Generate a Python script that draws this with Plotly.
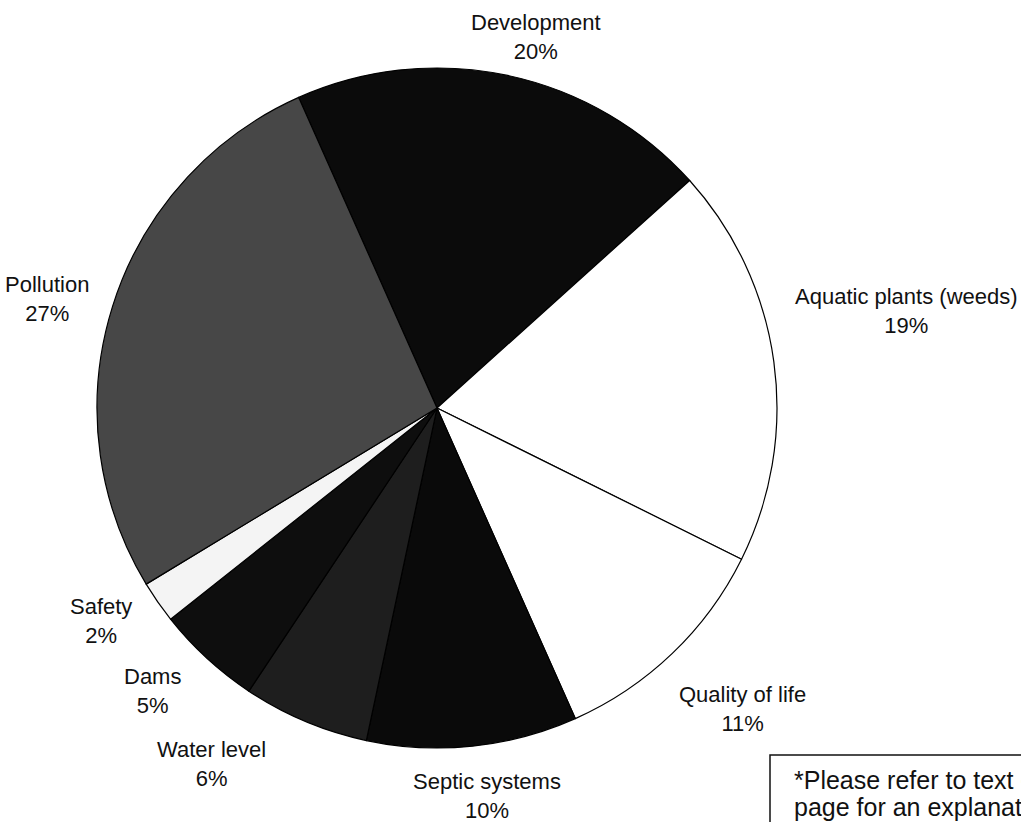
import math
import plotly.graph_objects as go

labels = ["Development", "Aquatic plants (weeds)", "Quality of life", "Septic systems",
          "Water level", "Dams", "Safety", "Pollution"]
values = [20, 19, 11, 10, 6, 5, 2, 27]
colors = ["#0b0b0b", "#ffffff", "#ffffff", "#0a0a0a", "#1e1e1e", "#0e0e0e", "#f4f4f4", "#474747"]

note_lines = ["*Please refer to text on the following", "page for an explanation of the categories"]

# label placement (layout only): radial distance factor and angular nudge (deg) per slice
label_radius = [1.13, 1.41, 1.26, 1.15, 1.24, 1.18, 1.17, 1.19]
label_nudge = [3.0, -3.9, -1.6, -1.4, 9.5, 2.5, 2.4, -1.8]

W, H = 1021, 822
cx, cy, r = 437, 408, 340
rotation = -24
FONT = "Liberation Sans, Arial, Helvetica, sans-serif"

fig = go.Figure(go.Pie(
    labels=labels,
    values=values,
    sort=False,
    direction="clockwise",
    rotation=rotation,
    marker=dict(colors=colors, line=dict(color="#000000", width=1.2)),
    textinfo="none",
    showlegend=False,
    hoverinfo="label+percent",
    domain=dict(x=[(cx - r) / W, (cx + r) / W], y=[(H - cy - r) / H, (H - cy + r) / H]),
))

total = sum(values)
start = rotation
for lab, v, rf, nd in zip(labels, values, label_radius, label_nudge):
    span = 360.0 * v / total
    mid = math.radians(start + span / 2 + nd)
    start += span
    px = cx + rf * r * math.sin(mid)
    py = cy - rf * r * math.cos(mid)
    fig.add_annotation(
        xref="paper", yref="paper", x=px / W, y=1 - py / H,
        xanchor="center", yanchor="middle", showarrow=False,
        text=f"{lab}<br>{v}%",
        font=dict(family=FONT, size=22, color="#111111"),
    )

# note box (cut by the right/bottom edge as in the original)
fig.add_shape(type="rect", xref="paper", yref="paper",
              x0=770 / W, x1=1.05, y0=-0.05, y1=1 - 755 / H,
              line=dict(color="#111111", width=1.5), fillcolor="#ffffff", layer="above")
for i, line in enumerate(note_lines):
    fig.add_annotation(
        xref="paper", yref="paper", x=792 / W, y=1 - (780 + 27 * i) / H,
        xanchor="left", yanchor="middle", align="left", showarrow=False,
        text=line,
        font=dict(family=FONT, size=25, color="#111111"),
    )

fig.update_layout(
    width=W, height=H,
    margin=dict(l=0, r=0, t=0, b=0),
    paper_bgcolor="#ffffff", plot_bgcolor="#ffffff",
)

fig.write_html("out.html", config={"displayModeBar": False},
               post_script="document.body.style.margin='0';document.body.style.padding='0';")
